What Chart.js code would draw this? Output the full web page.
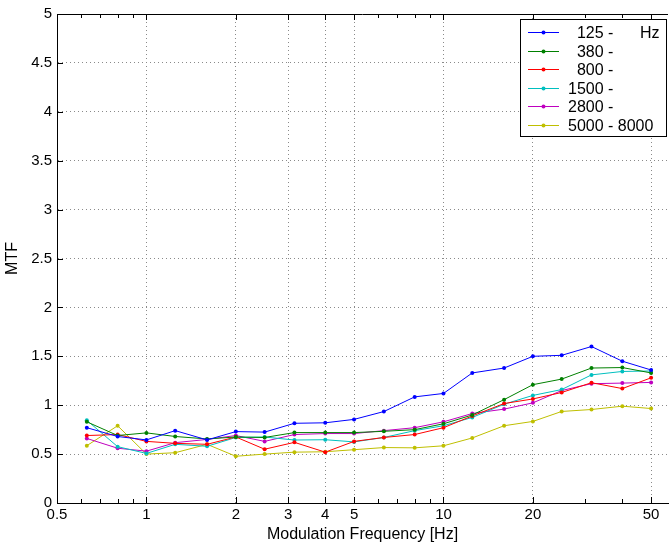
<!DOCTYPE html>
<html>
<head>
<meta charset="utf-8">
<script src="https://cdn.jsdelivr.net/npm/chart.js@4/dist/chart.umd.min.js"></script>
<style>
  html, body { margin: 0; padding: 0; background: #fff; }
  #wrap { width: 672px; height: 546px; }
</style>
</head>
<body>
<div id="wrap"><canvas id="c" width="672" height="546"></canvas></div>
<script>
// ---- data (third-octave modulation frequencies) ----
const freqs = [0.63, 0.8, 1, 1.25, 1.6, 2, 2.5, 3.15, 4, 5, 6.3, 8, 10, 12.5, 16, 20, 25, 31.5, 40, 50];

const mtf125  = [0.77, 0.68, 0.645, 0.74, 0.645, 0.73, 0.725, 0.815, 0.82, 0.855, 0.935, 1.085, 1.12, 1.33, 1.38, 1.50, 1.51, 1.60, 1.45, 1.36];
const mtf380  = [0.83, 0.69, 0.717, 0.68, 0.655, 0.675, 0.67, 0.72, 0.72, 0.72, 0.733, 0.75, 0.81, 0.90, 1.057, 1.21, 1.267, 1.38, 1.385, 1.33];
const mtf800  = [0.69, 0.70, 0.63, 0.61, 0.60, 0.675, 0.55, 0.62, 0.52, 0.63, 0.67, 0.70, 0.77, 0.89, 1.017, 1.064, 1.13, 1.23, 1.17, 1.28];
const mtf1500 = [0.845, 0.576, 0.507, 0.60, 0.58, 0.67, 0.675, 0.644, 0.647, 0.625, 0.67, 0.74, 0.79, 0.875, 1.01, 1.10, 1.16, 1.31, 1.345, 1.35];
const mtf2800 = [0.66, 0.56, 0.53, 0.617, 0.65, 0.69, 0.63, 0.70, 0.71, 0.71, 0.74, 0.77, 0.83, 0.915, 0.96, 1.024, 1.15, 1.22, 1.226, 1.233];
const mtf5000 = [0.586, 0.79, 0.50, 0.514, 0.60, 0.478, 0.50, 0.52, 0.524, 0.545, 0.567, 0.564, 0.585, 0.665, 0.79, 0.834, 0.936, 0.956, 0.99, 0.966];

const seriesLabels = ['  125 -      Hz', '  380 -', '  800 -', '1500 -', '2800 -', '5000 - 8000'];
const seriesColors = ['#0000ff', '#008000', '#ff0000', '#00bfbf', '#bf00bf', '#bfbf00'];
const seriesValues = [mtf125, mtf380, mtf800, mtf1500, mtf2800, mtf5000];

const xTicks = [0.5, 1, 2, 3, 4, 5, 10, 20, 50];
const xMinorTicks = [0.6, 0.7, 0.8, 0.9, 3, 4, 6, 7, 8, 9, 30, 40];
const yTicks = [0, 0.5, 1, 1.5, 2, 2.5, 3, 3.5, 4, 4.5, 5];

const FONT = "'Liberation Sans', Arial, sans-serif";

// ---- box, inside tick marks and legend (matlab look) ----
const matlabFrame = {
  id: 'matlabFrame',
  afterDatasetsDraw(chart) {
    const ctx = chart.ctx;
    const a = chart.chartArea;
    const xs = chart.scales.x, ys = chart.scales.y;
    ctx.save();
    ctx.strokeStyle = '#000';
    ctx.lineWidth = 1;
    // top border
    ctx.beginPath();
    ctx.moveTo(a.left, a.top + 0.5);
    ctx.lineTo(a.right, a.top + 0.5);
    ctx.stroke();
    // major ticks on x (bottom + top)
    ctx.beginPath();
    xTicks.forEach(v => {
      const px = Math.round(xs.getPixelForValue(v)) + 0.5;
      ctx.moveTo(px, a.bottom); ctx.lineTo(px, a.bottom - 6);
      ctx.moveTo(px, a.top); ctx.lineTo(px, a.top + 6);
    });
    xMinorTicks.forEach(v => {
      const px = Math.round(xs.getPixelForValue(v)) + 0.5;
      ctx.moveTo(px, a.bottom); ctx.lineTo(px, a.bottom - 4);
      ctx.moveTo(px, a.top); ctx.lineTo(px, a.top + 4);
    });
    // minor ticks in the 10..50 decade
    [11, 12, 13, 14, 15, 16, 17, 18, 19].forEach(v => {});
    yTicks.forEach(v => {
      const py = Math.round(ys.getPixelForValue(v)) + 0.5;
      ctx.moveTo(a.left, py); ctx.lineTo(a.left + 6, py);
    });
    ctx.stroke();

    // legend
    const bx = 520.5, by = 19.5, bw = 146, bh = 117;
    ctx.fillStyle = '#fff';
    ctx.fillRect(bx, by, bw, bh);
    ctx.strokeRect(bx, by, bw, bh);
    ctx.font = '16px ' + FONT;
    ctx.textBaseline = 'middle';
    ctx.textAlign = 'left';
    seriesLabels.forEach((lab, i) => {
      const ly = Math.round(32 + i * 18.5) + 0.5;
      ctx.strokeStyle = seriesColors[i];
      ctx.beginPath();
      ctx.moveTo(528, ly); ctx.lineTo(559, ly);
      ctx.stroke();
      ctx.fillStyle = seriesColors[i];
      ctx.beginPath();
      ctx.arc(543.5, ly, 2, 0, Math.PI * 2);
      ctx.fill();
      ctx.fillStyle = '#000';
      ctx.fillText(lab, 568, ly + 1);
    });
    ctx.restore();
  }
};

const datasets = seriesValues.map((vals, i) => ({
  label: seriesLabels[i],
  data: freqs.map((f, j) => ({ x: f, y: vals[j] })),
  borderColor: seriesColors[i],
  backgroundColor: seriesColors[i],
  borderWidth: 1,
  pointRadius: 2,
  pointBorderWidth: 0,
  tension: 0
}));

new Chart(document.getElementById('c'), {
  type: 'line',
  data: { datasets },
  options: {
    responsive: false,
    animation: false,
    events: [],
    layout: { padding: { top: 13, right: 0, left: 0, bottom: 0 } },
    plugins: {
      legend: { display: false },
      tooltip: { enabled: false }
    },
    scales: {
      x: {
        type: 'logarithmic',
        min: 0.5,
        max: 57,
        afterFit: s => { s.height = 43; },
        afterBuildTicks: s => { s.ticks = xTicks.map(v => ({ value: v })); },
        ticks: {
          color: '#000',
          font: { family: FONT, size: 15 },
          padding: 3,
          maxRotation: 0,
          autoSkip: false,
          callback: v => String(v)
        },
        grid: {
          color: ctx => (ctx.tick && ctx.tick.value === 0.5) ? 'rgba(0,0,0,0)' : '#8a8a8a',
          drawTicks: false,
          lineWidth: 1
        },
        border: { display: true, color: '#000', dash: [1, 3] },
        title: {
          display: true,
          text: 'Modulation Frequency [Hz]',
          color: '#000',
          font: { family: FONT, size: 16 },
          padding: { top: 0, bottom: 2 }
        }
      },
      y: {
        min: 0,
        max: 5,
        afterFit: s => { s.width = 57; },
        afterBuildTicks: s => { s.ticks = yTicks.map(v => ({ value: v })); },
        ticks: {
          color: '#000',
          font: { family: FONT, size: 15 },
          padding: 5,
          callback: v => String(v)
        },
        grid: {
          color: ctx => (ctx.tick && (ctx.tick.value === 0 || ctx.tick.value === 5)) ? 'rgba(0,0,0,0)' : '#8a8a8a',
          drawTicks: false,
          lineWidth: 1
        },
        border: { display: true, color: '#000', dash: [1, 3] },
        title: {
          display: true,
          text: 'MTF',
          color: '#000',
          font: { family: FONT, size: 16 },
          padding: { top: 3, bottom: 0 }
        }
      }
    }
  },
  plugins: [matlabFrame]
});
</script>
</body>
</html>
